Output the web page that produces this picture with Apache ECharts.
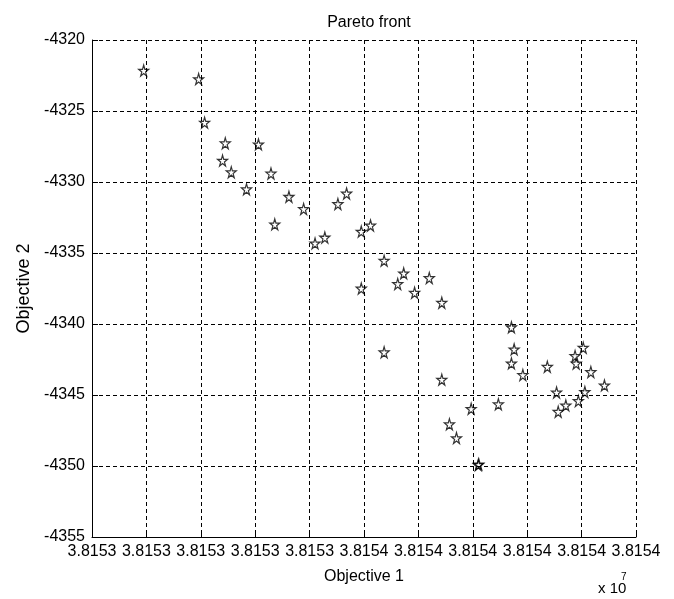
<!DOCTYPE html>
<html><head><meta charset="utf-8">
<script src="https://cdn.jsdelivr.net/npm/echarts@6/dist/echarts.min.js"></script>
<style>html,body{margin:0;padding:0;background:#fff}#chart{width:674px;height:599px}</style>
</head><body>
<div id="chart"></div>
<script>
// x values are in tick steps (0..10) of the MATLAB axis, labels shown x 10^7
var xTickLabels = ['3.8153', '3.8153', '3.8153', '3.8153', '3.8153', '3.8154', '3.8154', '3.8154', '3.8154', '3.8154', '3.8154']
var yMin = -4355, yMax = -4320, yStep = 5

var obj1 = [0.95, 1.96, 2.07, 2.45, 3.06, 2.40, 2.56, 3.29, 2.84, 3.62,
  3.89, 4.52, 4.68, 3.36, 4.10, 4.28, 4.95, 5.12, 4.95, 5.37,
  5.73, 5.62, 5.93, 6.20, 6.43, 5.37, 6.43, 7.71, 7.76, 7.71,
  7.92, 8.37, 9.03, 8.88, 8.90, 9.17, 9.42, 8.54, 9.06, 8.94,
  8.71, 8.57, 6.97, 7.47, 6.57, 6.70, 7.10, 7.11]
var obj2 = [-4322.15, -4322.75, -4325.82, -4327.27, -4327.35, -4328.49, -4329.31, -4329.40, -4330.51, -4331.04,
  -4331.90, -4331.55, -4330.81, -4332.98, -4334.32, -4333.91, -4333.49, -4333.06, -4337.50, -4335.54,
  -4336.43, -4337.18, -4337.80, -4336.76, -4338.50, -4341.99, -4343.92, -4340.23, -4341.78, -4342.77,
  -4343.59, -4343.01, -4341.67, -4342.25, -4342.78, -4343.38, -4344.32, -4344.82, -4344.79, -4345.42,
  -4345.73, -4346.18, -4345.97, -4345.65, -4347.06, -4348.03, -4349.93, -4349.88]

var font = 'Liberation Sans, Arial, sans-serif'
var star = 'path://M50,0 L61,35 L98,35 L68,57 L79,91 L50,70 L21,91 L32,57 L2,35 L39,35 Z'
var gridDash = { color: '#000', width: 1, type: [4, 3] }

var chart = echarts.init(document.getElementById('chart'), null, { renderer: 'canvas' })
chart.setOption({
  animation: false,
  backgroundColor: '#fff',
  title: {
    text: 'Pareto front',
    left: 364, top: 10, textAlign: 'center',
    textStyle: { fontFamily: font, fontSize: 16, fontWeight: 'normal', color: '#000' }
  },
  grid: { left: 92, right: 38, top: 40, bottom: 62, containLabel: false, outerBoundsMode: 'none' },
  xAxis: {
    type: 'value', min: 0, max: xTickLabels.length - 1, interval: 1,
    name: 'Objective 1', nameLocation: 'middle', nameGap: 32,
    nameTextStyle: { fontFamily: font, fontSize: 16, color: '#000' },
    axisLine: { show: true, onZero: false, lineStyle: { color: '#000', width: 1 } },
    axisTick: { show: true, inside: true, length: 6, lineStyle: { color: '#000' } },
    axisLabel: {
      margin: 7, fontFamily: font, fontSize: 16, color: '#000',
      formatter: function (v) { return xTickLabels[Math.round(v)] }
    },
    splitLine: { show: true, lineStyle: gridDash }
  },
  yAxis: {
    type: 'value', min: yMin, max: yMax, interval: yStep,
    name: 'Objective 2', nameLocation: 'middle', nameGap: 56, nameRotate: 90,
    nameTextStyle: { fontFamily: font, fontSize: 18, color: '#000' },
    axisLine: { show: true, onZero: false, lineStyle: { color: '#000', width: 1 } },
    axisTick: { show: true, inside: true, length: 6, lineStyle: { color: '#000' } },
    axisLabel: {
      margin: 7, fontFamily: font, fontSize: 16, color: '#000',
      formatter: function (v) { return String(v) }
    },
    splitLine: { show: true, lineStyle: gridDash }
  },
  graphic: [
    { type: 'text', left: 598, top: 581, style: { text: 'x 10', font: '15px ' + font, fill: '#000' } },
    { type: 'text', left: 621, top: 572, style: { text: '7', font: '10px ' + font, fill: '#000' } }
  ],
  series: [{
    type: 'scatter',
    symbol: star,
    symbolSize: [10, 11],
    itemStyle: { color: 'rgba(255,255,255,0)', borderColor: '#000', borderWidth: 1.2 },
    data: obj1.map(function (x, i) { return [x, obj2[i]] })
  }]
})
</script>
</body></html>
